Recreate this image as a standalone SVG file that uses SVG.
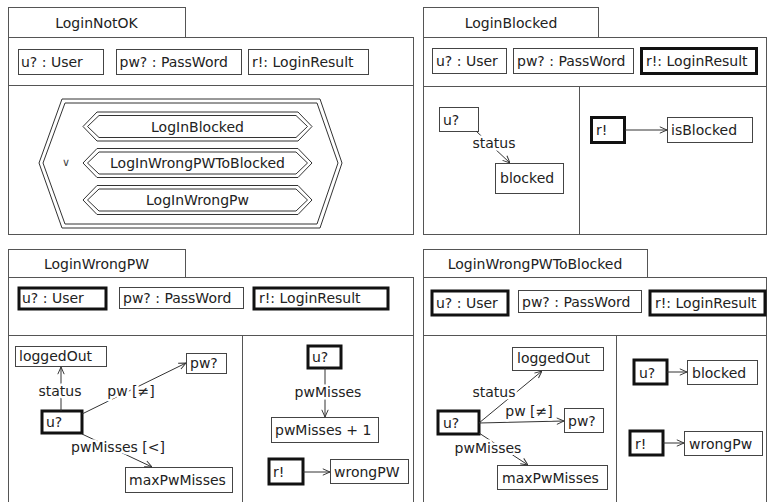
<svg xmlns="http://www.w3.org/2000/svg" width="767" height="502" viewBox="0 0 767 502">
<style>
.frame{fill:#fff;stroke:#555;stroke-width:1}
.line{fill:none;stroke:#555;stroke-width:1}
.box{fill:#fff;stroke:#444;stroke-width:1}
.bold{fill:#fff;stroke:#111;stroke-width:3}
.hex{fill:#fff;stroke:#333;stroke-width:1}
.edge{fill:none;stroke:#333;stroke-width:1}
text{font-family:"DejaVu Sans","Liberation Sans",sans-serif;font-size:14px;fill:#222}
.c{text-anchor:middle}
.lbl{text-anchor:middle;paint-order:stroke;stroke:#fff;stroke-width:5px;stroke-linejoin:round}
.or{font-size:11px;text-anchor:middle;fill:#444}
</style>
<defs>
<marker id="arr" viewBox="0 0 10 10" refX="10" refY="5" markerWidth="8" markerHeight="8" orient="auto" markerUnits="userSpaceOnUse">
<path d="M1,1 L10,5 L1,9" fill="none" stroke="#333" stroke-width="1.2"/>
</marker>
</defs>
<rect width="767" height="502" fill="#fff"/>

<g id="LoginNotOK">
<rect class="frame" x="8.5" y="7.5" width="177" height="30"/>
<text class="c" x="96.5" y="28">LoginNotOK</text>
<rect class="frame" x="8.5" y="37.5" width="405" height="197"/>
<line class="line" x1="8.5" y1="85.5" x2="413.5" y2="85.5"/>
<rect class="box" x="18.5" y="49.5" width="85" height="25"/>
<text x="21" y="67">u? : User</text>
<rect class="box" x="116.5" y="49.5" width="125" height="25"/>
<text x="119.5" y="67">pw? : PassWord</text>
<rect class="box" x="248.5" y="49.5" width="120" height="25"/>
<text x="252" y="67">r!: LoginResult</text>
<polygon class="hex" points="39,163 62,99 320,99 342,163 320,228 62,228"/>
<polygon class="hex" points="43,163 65,103 317,103 338,163 317,224 65,224"/>
<text class="or" x="66" y="166">∨</text>
<g id="ref-LogInBlocked">
<polygon class="hex" points="83,126.5 97,112 298,112 312,126.5 298,141 97,141"/>
<polygon class="hex" points="87.5,126.5 99,115.5 296,115.5 307.5,126.5 296,137.5 99,137.5"/>
<text class="c" x="197.5" y="131.5">LogInBlocked</text>
</g>
<g id="ref-LogInWrongPWToBlocked">
<polygon class="hex" points="83,163 97,148.5 298,148.5 312,163 298,177.5 97,177.5"/>
<polygon class="hex" points="87.5,163 99,152 296,152 307.5,163 296,174 99,174"/>
<text class="c" x="197.5" y="168">LogInWrongPWToBlocked</text>
</g>
<g id="ref-LogInWrongPw">
<polygon class="hex" points="83,200 97,185.5 298,185.5 312,200 298,214.5 97,214.5"/>
<polygon class="hex" points="87.5,200 99,189 296,189 307.5,200 296,211 99,211"/>
<text class="c" x="197.5" y="205">LogInWrongPw</text>
</g>
</g>

<g id="LoginBlocked">
<rect class="frame" x="423.5" y="7.5" width="175" height="30"/>
<text class="c" x="511" y="28">LoginBlocked</text>
<rect class="frame" x="423.5" y="37.5" width="343" height="197"/>
<line class="line" x1="423.5" y1="86.5" x2="766.5" y2="86.5"/>
<line class="line" x1="579.5" y1="86.5" x2="579.5" y2="234.5"/>
<rect class="box" x="432.5" y="48.5" width="74" height="25"/>
<text x="436" y="66">u? : User</text>
<rect class="box" x="513.5" y="48.5" width="120" height="25"/>
<text x="517" y="66">pw? : PassWord</text>
<rect class="bold" x="641.5" y="48.5" width="115" height="25"/>
<text x="646" y="66">r!: LoginResult</text>
<g id="lb-u"><rect class="box" x="439.5" y="107.5" width="39" height="24"/><text x="443" y="125">u?</text></g>
<g id="lb-blocked"><rect class="box" x="495.5" y="163.5" width="68" height="30"/><text x="500" y="183">blocked</text></g>
<g id="lb-r"><rect class="bold" x="591.5" y="117.5" width="33" height="25"/><text x="596" y="135">r!</text></g>
<g id="lb-isBlocked"><rect class="box" x="667.5" y="117.5" width="85" height="25"/><text x="671" y="135">isBlocked</text></g>
</g>

<g id="LoginWrongPW">
<rect class="frame" x="8.5" y="249.5" width="177" height="28"/>
<text class="c" x="96.5" y="269">LoginWrongPW</text>
<rect class="frame" x="8.5" y="277.5" width="405" height="230"/>
<line class="line" x1="8.5" y1="335.5" x2="413.5" y2="335.5"/>
<line class="line" x1="242.5" y1="335.5" x2="242.5" y2="505"/>
<rect class="bold" x="19" y="288" width="87" height="21"/>
<text x="22" y="303">u? : User</text>
<rect class="box" x="119.5" y="287.5" width="124" height="21"/>
<text x="123" y="303">pw? : PassWord</text>
<rect class="bold" x="254" y="288" width="134" height="21"/>
<text x="259" y="303">r!: LoginResult</text>
<g id="wp-loggedOut"><rect class="box" x="15.5" y="346.5" width="91" height="20"/><text x="19" y="361">loggedOut</text></g>
<g id="wp-pw"><rect class="box" x="186.5" y="353.5" width="40" height="20"/><text x="190" y="368">pw?</text></g>
<g id="wp-u"><rect class="bold" x="42" y="411" width="40" height="22"/><text x="46" y="427">u?</text></g>
<g id="wp-max"><rect class="box" x="125.5" y="467.5" width="107" height="25"/><text x="129" y="485">maxPwMisses</text></g>
<g id="wp-u2"><rect class="bold" x="308" y="346" width="33" height="22"/><text x="312" y="362">u?</text></g>
<g id="wp-plus"><rect class="box" x="271.5" y="417.5" width="107" height="25"/><text x="275" y="435">pwMisses + 1</text></g>
<g id="wp-r"><rect class="bold" x="269" y="459" width="34" height="25"/><text x="273" y="477">r!</text></g>
<g id="wp-wrongPW"><rect class="box" x="330.5" y="459.5" width="78" height="24"/><text x="334" y="477">wrongPW</text></g>
</g>

<g id="LoginWrongPWToBlocked">
<rect class="frame" x="423.5" y="249.5" width="224" height="28"/>
<text class="c" x="535" y="269">LoginWrongPWToBlocked</text>
<rect class="frame" x="423.5" y="277.5" width="343" height="230"/>
<line class="line" x1="423.5" y1="335.5" x2="766.5" y2="335.5"/>
<line class="line" x1="616.5" y1="335.5" x2="616.5" y2="505"/>
<rect class="bold" x="432" y="291" width="76" height="24"/>
<text x="436" y="308">u? : User</text>
<rect class="box" x="518.5" y="290.5" width="123" height="22"/>
<text x="522" y="307">pw? : PassWord</text>
<rect class="bold" x="650" y="291" width="115" height="24"/>
<text x="655" y="308">r!: LoginResult</text>
<g id="wb-loggedOut"><rect class="box" x="512.5" y="347.5" width="91" height="23"/><text x="517" y="363">loggedOut</text></g>
<g id="wb-u"><rect class="bold" x="438" y="411" width="41" height="23"/><text x="443" y="428">u?</text></g>
<g id="wb-pw"><rect class="box" x="564.5" y="408.5" width="39" height="24"/><text x="568" y="426">pw?</text></g>
<g id="wb-max"><rect class="box" x="497.5" y="465.5" width="110" height="24"/><text x="502" y="483">maxPwMisses</text></g>
<g id="wb-u2"><rect class="bold" x="634" y="360" width="33" height="24"/><text x="639" y="378">u?</text></g>
<g id="wb-blocked"><rect class="box" x="687.5" y="360.5" width="70" height="24"/><text x="692" y="378">blocked</text></g>
<g id="wb-r"><rect class="bold" x="630" y="431" width="33" height="24"/><text x="635" y="449">r!</text></g>
<g id="wb-wrongPw"><rect class="box" x="684.5" y="431.5" width="78" height="24"/><text x="689" y="449">wrongPw</text></g>
</g>

<g id="connectors">
<line class="edge" x1="476" y1="131" x2="510" y2="163" marker-end="url(#arr)"/>
<text class="lbl" x="494" y="148">status</text>
<line class="edge" x1="625" y1="130" x2="667" y2="130" marker-end="url(#arr)"/>

<line class="edge" x1="61" y1="411" x2="61" y2="367" marker-end="url(#arr)"/>
<text class="lbl" x="60" y="396">status</text>
<line class="edge" x1="82" y1="414" x2="186" y2="363" marker-end="url(#arr)"/>
<text class="lbl" x="131" y="396">pw [≠]</text>
<line class="edge" x1="82" y1="434" x2="152" y2="467" marker-end="url(#arr)"/>
<text class="lbl" x="118" y="452">pwMisses [&lt;]</text>
<line class="edge" x1="325" y1="368" x2="325" y2="417" marker-end="url(#arr)"/>
<text class="lbl" x="328" y="397">pwMisses</text>
<line class="edge" x1="303" y1="472" x2="330" y2="472" marker-end="url(#arr)"/>

<line class="edge" x1="479" y1="423" x2="542" y2="371" marker-end="url(#arr)"/>
<text class="lbl" x="494" y="397">status</text>
<line class="edge" x1="479" y1="423" x2="564" y2="421" marker-end="url(#arr)"/>
<text class="lbl" x="529" y="416">pw [≠]</text>
<line class="edge" x1="479" y1="433" x2="528" y2="465" marker-end="url(#arr)"/>
<text class="lbl" x="488" y="453">pwMisses</text>
<line class="edge" x1="667" y1="372" x2="687" y2="372" marker-end="url(#arr)"/>
<line class="edge" x1="663" y1="443" x2="684" y2="443" marker-end="url(#arr)"/>
</g>
</svg>
